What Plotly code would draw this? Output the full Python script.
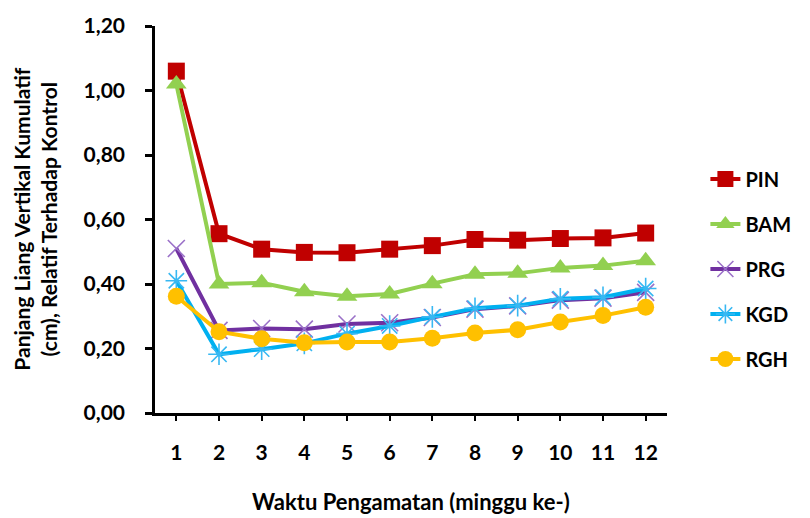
import plotly.graph_objects as go

weeks = [1, 2, 3, 4, 5, 6, 7, 8, 9, 10, 11, 12]
pin = [1.06, 0.556, 0.508, 0.498, 0.497, 0.508, 0.519, 0.538, 0.536, 0.541, 0.543, 0.558]
bam = [1.02, 0.400, 0.404, 0.376, 0.362, 0.369, 0.401, 0.430, 0.433, 0.450, 0.457, 0.472]
prg = [0.510, 0.256, 0.262, 0.260, 0.276, 0.280, 0.296, 0.322, 0.332, 0.350, 0.356, 0.374]
kgd = [0.410, 0.182, 0.198, 0.216, 0.246, 0.270, 0.298, 0.325, 0.333, 0.354, 0.359, 0.386]
rgh = [0.362, 0.252, 0.230, 0.218, 0.220, 0.220, 0.232, 0.248, 0.258, 0.282, 0.302, 0.328]
y_ticks = [0, 0.2, 0.4, 0.6, 0.8, 1.0, 1.2]
y_ticktext = ["0,00", "0,20", "0,40", "0,60", "0,80", "1,00", "1,20"]

FONT = "Lato"
W = "bold"

series = [
    ("PIN", pin, "#C00000", dict(symbol="square", size=17, color="#C00000")),
    ("BAM", bam, "#92D050", dict(symbol="triangle-up", size=18, color="#92D050")),
    ("PRG", prg, "#7030A0", dict(symbol="x-thin-open", size=17, color="#9A70C8",
                                 line=dict(width=1.6, color="#9A70C8"))),
    ("KGD", kgd, "#00B0F0", dict(symbol="asterisk-open", size=18, color="#38B8F2",
                                 line=dict(width=1.6, color="#38B8F2"))),
    ("RGH", rgh, "#FFC000", dict(symbol="circle", size=17, color="#FFC000")),
]

fig = go.Figure()
for i, (name, vals, col, mk) in enumerate(series):
    fig.add_trace(go.Scatter(
        x=weeks, y=vals, name=name, mode="lines+markers",
        line=dict(color=col, width=4), marker=mk, legendgroup=name,
    ))

fig.update_layout(
    width=810, height=518,
    margin=dict(l=155, r=143, t=18, b=105),
    paper_bgcolor="white", plot_bgcolor="white",
    font=dict(family=FONT, size=20, color="black", weight=W),
    showlegend=True,
    legend=dict(
        x=1.075, y=0.655, xanchor="left", yanchor="top",
        font=dict(family=FONT, size=20, color="black", weight=W),
        traceorder="grouped", tracegroupgap=16,
        bgcolor="rgba(0,0,0,0)", itemwidth=30,
    ),
    xaxis=dict(
        range=[0.5, 12.5], tickmode="array", tickvals=weeks,
        ticktext=[str(w) for w in weeks],
        showline=True, linecolor="black", linewidth=2.5,
        ticks="outside", ticklen=5, tickwidth=2, tickcolor="black",
        showgrid=False, zeroline=False, ticklabelstandoff=14,
        tickfont=dict(family=FONT, size=21, color="black", weight=W),
        fixedrange=True,
    ),
    yaxis=dict(
        range=[0, 1.2], tickmode="array", tickvals=y_ticks, ticktext=y_ticktext,
        showline=True, linecolor="black", linewidth=2.5,
        ticks="outside", ticklen=7, tickwidth=2.5, tickcolor="black",
        showgrid=False, zeroline=False, ticklabelstandoff=16,
        tickfont=dict(family=FONT, size=21, color="black", weight=W),
        fixedrange=True,
    ),
    annotations=[
        dict(text="Waktu Pengamatan (minggu ke-)", xref="paper", yref="paper",
             x=0.5, y=-0.228, xanchor="center", yanchor="middle", showarrow=False,
             font=dict(family=FONT, size=22, color="black", weight=W)),
        dict(text="Panjang Liang Vertikal Kumulatif<br>(cm), Relatif Terhadap Kontrol",
             xref="paper", yref="paper", x=-0.236, y=0.5, xanchor="center",
             yanchor="middle", textangle=-90, showarrow=False,
             font=dict(family=FONT, size=21, color="black", weight=W)),
    ],
)

fig.write_html("out.html")
